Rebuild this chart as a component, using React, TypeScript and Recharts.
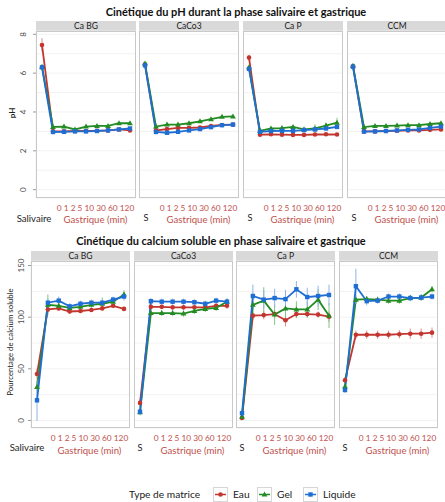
import React from 'react';
import { LineChart, Line, XAxis, YAxis, CartesianGrid, ErrorBar } from 'recharts';

// x categories: salivary point then gastric minutes
const timePoints = ['S', '0', '1', '2', '5', '10', '30', '60', '120'];
const facets = ['Ca BG', 'CaCo3', 'Ca P', 'CCM'];
const gastricLabel = '0 1 2 5 10 30 60 120';

// pH, one row per facet (Ca BG, CaCo3, Ca P, CCM)
const phEau = [
  [7.45, 3.0, 3.0, 3.02, 3.02, 3.03, 3.05, 3.1, 3.05],
  [6.45, 3.05, 3.12, 3.18, 3.18, 3.2, 3.28, 3.33, 3.35],
  [6.8, 2.83, 2.85, 2.83, 2.82, 2.82, 2.84, 2.85, 2.84],
  [6.35, 3.0, 3.0, 3.02, 3.03, 3.05, 3.05, 3.08, 3.1],
];
const phGel = [
  [6.33, 3.23, 3.25, 3.1, 3.25, 3.28, 3.28, 3.42, 3.42],
  [6.5, 3.25, 3.35, 3.35, 3.42, 3.52, 3.63, 3.75, 3.77],
  [6.3, 3.03, 3.15, 3.17, 3.23, 3.1, 3.15, 3.3, 3.45],
  [6.38, 3.22, 3.28, 3.28, 3.3, 3.32, 3.32, 3.38, 3.42],
];
const phLiquide = [
  [6.3, 2.97, 2.98, 3.0, 3.0, 3.02, 3.05, 3.1, 3.15],
  [6.4, 2.97, 2.93, 2.98, 3.05, 3.12, 3.22, 3.32, 3.35],
  [6.22, 2.98, 3.02, 3.03, 3.03, 3.07, 3.1, 3.15, 3.23],
  [6.33, 2.99, 3.0, 3.02, 3.05, 3.08, 3.1, 3.18, 3.25],
];
const phEauErr = [
  [0.35, 0.04, 0.04, 0.04, 0.04, 0.04, 0.04, 0.05, 0.05],
  [0.05, 0.04, 0.04, 0.04, 0.04, 0.04, 0.04, 0.04, 0.04],
  [0.15, 0.03, 0.03, 0.03, 0.03, 0.03, 0.04, 0.04, 0.04],
  [0.05, 0.04, 0.04, 0.04, 0.04, 0.04, 0.04, 0.04, 0.04],
];
const phGelErr = [
  [0.08, 0.06, 0.08, 0.06, 0.05, 0.06, 0.05, 0.06, 0.06],
  [0.06, 0.05, 0.05, 0.05, 0.05, 0.05, 0.05, 0.05, 0.05],
  [0.08, 0.05, 0.08, 0.08, 0.1, 0.1, 0.22, 0.15, 0.25],
  [0.05, 0.05, 0.05, 0.05, 0.05, 0.05, 0.05, 0.05, 0.05],
];
const phLiquideErr = [
  [0.05, 0.04, 0.04, 0.04, 0.04, 0.04, 0.04, 0.04, 0.04],
  [0.05, 0.04, 0.04, 0.04, 0.04, 0.04, 0.04, 0.04, 0.04],
  [0.08, 0.04, 0.04, 0.04, 0.04, 0.04, 0.05, 0.05, 0.05],
  [0.05, 0.04, 0.04, 0.04, 0.04, 0.04, 0.04, 0.04, 0.04],
];

// soluble calcium (%), one row per facet
const caEau = [
  [45, 107.5, 108.5, 105.5, 106, 107, 108.5, 111, 108],
  [17, 110, 110, 109.5, 109.5, 109.5, 109.5, 111, 111],
  [2.5, 101.5, 102, 103, 97, 103, 103, 102.5, 100.5],
  [39, 83, 83, 83, 83, 83.5, 84, 84, 85],
];
const caGel = [
  [32.5, 112, 111, 109, 110, 112, 113, 115, 122],
  [8, 104, 104, 104, 103.5, 106, 108, 109, 115],
  [3.5, 112, 116, 102.5, 108.5, 107.5, 107.5, 117, 101.5],
  [33, 117, 117.5, 117, 116, 116, 118.5, 119, 127],
];
const caLiquide = [
  [19.5, 114, 116, 110.5, 113, 114, 114, 117, 120],
  [8.5, 115.5, 115, 115, 115, 114.5, 113, 116, 115],
  [7, 120.5, 117, 118.5, 117.5, 127, 119.5, 120.5, 121.5],
  [29.5, 130, 115.5, 116, 120, 120, 118.5, 119, 120],
];
const caEauErr = [
  [5, 2, 2, 2, 2, 2, 2, 2, 2],
  [3, 2, 2, 2, 2, 2, 2, 2, 3],
  [2, 4, 4, 4, 6, 4, 3, 3, 5],
  [3, 4, 4, 4, 4, 4, 5, 5, 5],
];
const caGelErr = [
  [6, 10, 3, 3, 3, 3, 6, 4, 4],
  [3, 3, 3, 3, 3, 3, 3, 3, 3],
  [2, 11, 13, 10, 9, 8, 8, 10, 12],
  [3, 4, 3, 3, 3, 3, 3, 3, 3],
];
const caLiquideErr = [
  [20, 4, 4, 3, 3, 3, 3, 3, 4],
  [3, 3, 3, 3, 3, 3, 3, 3, 3],
  [3, 11, 9, 9, 9, 8, 9, 10, 10],
  [3, 17, 4, 3, 3, 3, 3, 3, 3],
];

const series = [
  { key: 'Eau', color: '#c2362f', errColor: '#d98f8a', shape: 'circle' },
  { key: 'Gel', color: '#238b23', errColor: '#86c286', shape: 'triangle' },
  { key: 'Liquide', color: '#1f6ed4', errColor: '#8fb3e6', shape: 'square' },
];

const annotRed = '#c0504d';
const stripH = 10;

function marker(shape: string, color: string, cx: number, cy: number, k?: string) {
  if (shape === 'circle') return <circle key={k} cx={cx} cy={cy} r={2.3} fill={color} />;
  if (shape === 'triangle')
    return <path key={k} d={`M${cx},${cy - 3}L${cx + 2.9},${cy + 2}L${cx - 2.9},${cy + 2}Z`} fill={color} />;
  return <rect key={k} x={cx - 2.2} y={cy - 2.2} width={4.4} height={4.4} fill={color} />;
}

function buildRows(f: number, eau: number[][], gel: number[][], liq: number[][],
  eauE: number[][], gelE: number[][], liqE: number[][]) {
  return timePoints.map((t, i) => ({
    t,
    Eau: eau[f][i], Gel: gel[f][i], Liquide: liq[f][i],
    EauErr: eauE[f][i], GelErr: gelE[f][i], LiquideErr: liqE[f][i],
  }));
}

interface FacetProps {
  name: string;
  rows: any[];
  domain: [number, number];
  ticks: number[];
  major: number[];
  left: number;
  top: number;
  width: number;
  height: number;
  first: boolean;
  labelX: number;
}

function Facet({ name, rows, domain, ticks, major, left, top, width, height, first, labelX }: FacetProps) {
  const axisH = 4;
  const mt = 10; // room above the panel so the top tick label is not clipped
  const yW = first ? left : 0;
  const YTick = (props: any) => {
    const { y, payload } = props;
    if (!major.includes(payload.value)) return <g />;
    return (
      <g>
        <line x1={left - 3} x2={left} y1={y} y2={y} stroke="#9a9a9a" />
        <text x={labelX} y={y} transform={`rotate(-90 ${labelX} ${y})`} textAnchor="middle"
          dominantBaseline="central" fontSize={8} fill="#4d4d4d">{payload.value}</text>
      </g>
    );
  };
  return (
    <>
      <div style={{
        position: 'absolute', left, top: top - stripH - 0.5, width, height: stripH,
        background: '#d9d9d9', fontSize: 8.5, lineHeight: `${stripH}px`, textAlign: 'center', color: '#1a1a1a',
      }}>{name}</div>
      <div style={{ position: 'absolute', left: first ? 0 : left, top: top - mt }}>
        <LineChart width={yW + width} height={height + axisH + mt} data={rows}
          margin={{ top: mt, right: 0, bottom: 0, left: 0 }}>
          <CartesianGrid stroke="#efefef" strokeWidth={0.8} />
          <XAxis dataKey="t" padding={{ left: 6, right: 6 }} height={axisH} tickSize={3}
            axisLine={false} tickLine={{ stroke: '#aaaaaa' }} tick={false} interval={0} />
          <YAxis type="number" domain={domain} ticks={ticks} allowDataOverflow hide={!first} width={yW}
            axisLine={false} tickLine={false} tick={YTick} interval={0} />
          {series.map((s) => (
            <Line key={s.key} dataKey={s.key} stroke={s.color} strokeWidth={1.8} isAnimationActive={false}
              dot={(p: any) => marker(s.shape, s.color, p.cx, p.cy, `${s.key}-${p.index}`)} activeDot={false}>
              <ErrorBar dataKey={`${s.key}Err`} width={0} stroke={s.errColor} strokeWidth={1} direction="y" />
            </Line>
          ))}
        </LineChart>
      </div>
      <div style={{
        position: 'absolute', left, top, width, height, border: '1px solid #c9c9c9',
        boxSizing: 'border-box', pointerEvents: 'none',
      }} />
    </>
  );
}

function Centered({ x, y, children, style }: { x: number; y: number; children: React.ReactNode; style?: any }) {
  return (
    <div style={{
      position: 'absolute', left: x, top: y, transform: 'translate(-50%, -50%)', whiteSpace: 'nowrap', ...style,
    }}>{children}</div>
  );
}

const phLefts = [36, 139, 243, 347];
const caLefts = [31, 134, 236, 339];

export default function App() {
  return (
    <div style={{
      position: 'absolute', left: 0, top: 0, width: 445, height: 502, background: '#fff',
      fontFamily: 'Lato, "Liberation Sans", sans-serif', overflow: 'hidden',
    }}>
      <Centered x={236} y={11} style={{ fontWeight: 'bold', fontSize: 11, color: '#111' }}>
        Cinétique du pH durant la phase salivaire et gastrique
      </Centered>
      {facets.map((name, f) => (
        <Facet key={'ph' + f} name={name}
          rows={buildRows(f, phEau, phGel, phLiquide, phEauErr, phGelErr, phLiquideErr)}
          domain={[-0.43, 8.17]} ticks={[0, 1, 2, 3, 4, 5, 6, 7, 8]} major={[0, 2, 4, 6, 8]}
          left={phLefts[f]} top={31} width={100} height={167} first={f === 0} labelX={23} />
      ))}
      <Centered x={12} y={113} style={{ transform: 'translate(-50%, -50%) rotate(-90deg)', fontSize: 8, fontWeight: 'bold', color: '#222' }}>pH</Centered>
      {facets.map((name, f) => (
        <React.Fragment key={'phlab' + f}>
          <Centered x={phLefts[f] + 59.5} y={208} style={{ fontSize: 8.3, color: annotRed }}>{gastricLabel}</Centered>
          <Centered x={phLefts[f] + 59.5} y={218.5} style={{ fontSize: 9.6, color: annotRed }}>Gastrique (min)</Centered>
          {f === 0
            ? <Centered x={34} y={218} style={{ fontSize: 9.6, color: '#222' }}>Salivaire</Centered>
            : <Centered x={phLefts[f] + 7} y={217} style={{ fontSize: 9.2, color: '#222' }}>S</Centered>}
        </React.Fragment>
      ))}

      <Centered x={221} y={240} style={{ fontWeight: 'bold', fontSize: 11, color: '#111' }}>
        Cinétique du calcium soluble en phase salivaire et gastrique
      </Centered>
      {facets.map((name, f) => (
        <Facet key={'ca' + f} name={name}
          rows={buildRows(f, caEau, caGel, caLiquide, caEauErr, caGelErr, caLiquideErr)}
          domain={[-7.3, 154.4]} ticks={[0, 25, 50, 75, 100, 125, 150]} major={[0, 50, 100, 150]}
          left={caLefts[f]} top={261} width={99} height={167} first={f === 0} labelX={21} />
      ))}
      <Centered x={10} y={342} style={{ transform: 'translate(-50%, -50%) rotate(-90deg)', fontSize: 7.8, color: '#222' }}>
        Pourcentage de calcium soluble
      </Centered>
      {facets.map((name, f) => (
        <React.Fragment key={'calab' + f}>
          <Centered x={caLefts[f] + 58.5} y={438} style={{ fontSize: 8.3, color: annotRed }}>{gastricLabel}</Centered>
          <Centered x={caLefts[f] + 58.5} y={450} style={{ fontSize: 9.6, color: annotRed }}>Gastrique (min)</Centered>
          {f === 0
            ? <Centered x={27} y={447} style={{ fontSize: 9.6, color: '#222' }}>Salivaire</Centered>
            : <Centered x={caLefts[f] + 6} y={447} style={{ fontSize: 9.2, color: '#222' }}>S</Centered>}
        </React.Fragment>
      ))}

      <div style={{ position: 'absolute', left: 129, top: 487, fontSize: 10.2, color: '#222', lineHeight: '14px' }}>
        Type de matrice
      </div>
      {series.map((s, i) => {
        const bx = [213, 257, 303][i];
        return (
          <React.Fragment key={'leg' + s.key}>
            <svg style={{ position: 'absolute', left: bx, top: 487 }} width={15} height={15}>
              <rect x={0.5} y={0.5} width={14} height={14} fill="#fff" stroke="#d6d6d6" />
              <line x1={2} x2={13} y1={7.5} y2={7.5} stroke={s.color} strokeWidth={1.5} />
              {marker(s.shape, s.color, 7.5, 7.5)}
            </svg>
            <div style={{ position: 'absolute', left: bx + 20, top: 487, fontSize: 10.2, color: '#222', lineHeight: '14px' }}>
              {s.key}
            </div>
          </React.Fragment>
        );
      })}
    </div>
  );
}
